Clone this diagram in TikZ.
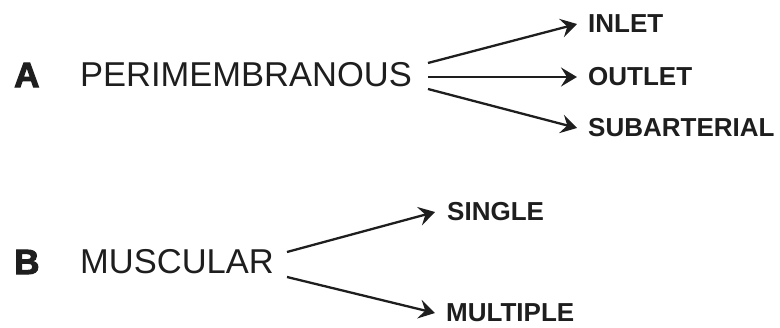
\documentclass[tikz,border=0pt]{standalone}
\usepackage{fontspec}
\setmainfont{Liberation Sans}
\newfontfamily\heavyfont[FakeBold=3]{Liberation Sans Bold}
\usetikzlibrary{arrows.meta}
\definecolor{ink}{HTML}{1E1E1E}
\begin{document}
\begin{tikzpicture}[x=1pt,y=-1pt,
  letter/.style={inner sep=0pt,anchor=west,text=ink,font=\heavyfont\fontsize{35}{36}\selectfont},
  main/.style={inner sep=0pt,anchor=west,text=ink,font=\fontsize{34.5}{36}\selectfont},
  sub/.style={inner sep=0pt,anchor=west,text=ink,font=\bfseries\fontsize{26}{28}\selectfont},
  arr/.style={draw=ink,line width=2.3pt,-{Stealth[length=16pt,width=19pt,inset=6pt]}}]
\useasboundingbox (0,0) rectangle (780,328);
\node[letter] (A) at (14,75) {A};
\node[main] (peri) at (80,75) {PERIMEMBRANOUS};
\node[sub] (inlet) at (588,24) {INLET};
\node[sub] (outlet) at (588,77) {OUTLET};
\node[sub] (subart) at (588,128) {SUBARTERIAL};
\node[letter] (B) at (14,262) {B};
\node[main] (musc) at (80,262) {MUSCULAR};
\node[sub] (single) at (447,212) {SINGLE};
\node[sub] (multi) at (446,313) {MULTIPLE};
\coordinate (p1) at (428,63);
\coordinate (p2) at (428,77);
\coordinate (p3) at (428,89);
\coordinate (m1) at (287,252);
\coordinate (m2) at (287,277);
\draw[arr] (p1) -- ([xshift=-11pt]inlet.west);
\draw[arr] (p2) -- ([xshift=-11pt]outlet.west);
\draw[arr] (p3) -- ([xshift=-11pt]subart.west);
\draw[arr] (m1) -- ([xshift=-12pt]single.west);
\draw[arr] (m2) -- ([xshift=-11pt]multi.west);
\end{tikzpicture}
\end{document}
